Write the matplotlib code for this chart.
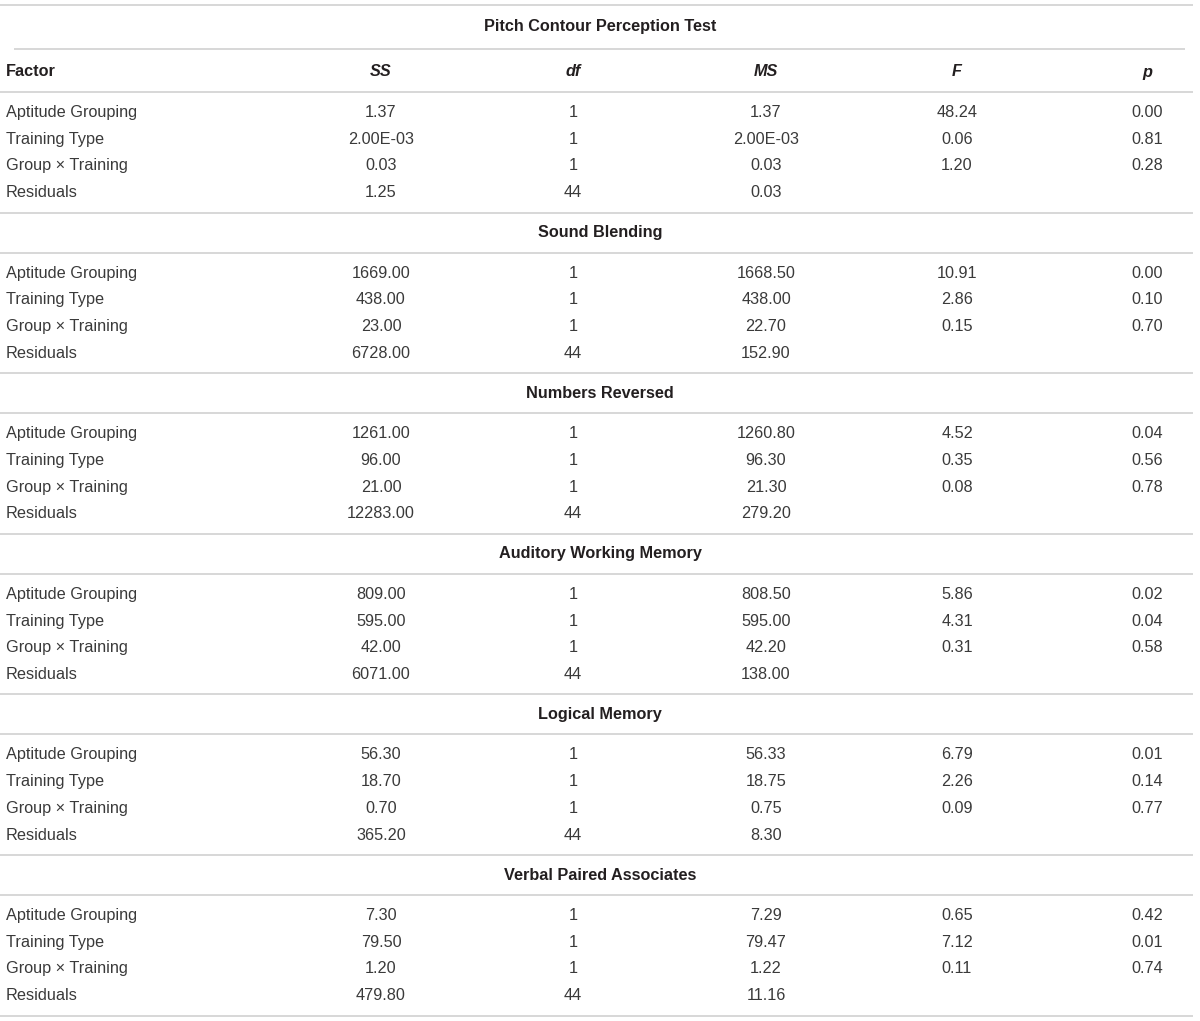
"""
ANOVA results table redrawn with matplotlib text and lines
"""

import matplotlib.pyplot as plt

sections = ['Pitch Contour Perception Test', 'Sound Blending', 'Numbers Reversed',
            'Auditory Working Memory', 'Logical Memory', 'Verbal Paired Associates']
columns = ['Factor', 'SS', 'df', 'MS', 'F', 'p']
factors = ['Aptitude Grouping', 'Training Type', 'Group \u00d7 Training', 'Residuals']

ss = [['1.37', '2.00E-03', '0.03', '1.25'],
      ['1669.00', '438.00', '23.00', '6728.00'],
      ['1261.00', '96.00', '21.00', '12283.00'],
      ['809.00', '595.00', '42.00', '6071.00'],
      ['56.30', '18.70', '0.70', '365.20'],
      ['7.30', '79.50', '1.20', '479.80']]
df = [['1', '1', '1', '44']] * 6
ms = [['1.37', '2.00E-03', '0.03', '0.03'],
      ['1668.50', '438.00', '22.70', '152.90'],
      ['1260.80', '96.30', '21.30', '279.20'],
      ['808.50', '595.00', '42.20', '138.00'],
      ['56.33', '18.75', '0.75', '8.30'],
      ['7.29', '79.47', '1.22', '11.16']]
f_val = [['48.24', '0.06', '1.20', ''],
         ['10.91', '2.86', '0.15', ''],
         ['4.52', '0.35', '0.08', ''],
         ['5.86', '4.31', '0.31', ''],
         ['6.79', '2.26', '0.09', ''],
         ['0.65', '7.12', '0.11', '']]
p_val = [['0.00', '0.81', '0.28', ''],
         ['0.00', '0.10', '0.70', ''],
         ['0.04', '0.56', '0.78', ''],
         ['0.02', '0.04', '0.58', ''],
         ['0.01', '0.14', '0.77', ''],
         ['0.42', '0.01', '0.74', '']]

W, H = 1200, 1021
col_x = [6, 381, 573, 766, 957, 1147]
line_color = '#d4d4d4'
text_color = '#3a3a3a'
head_color = '#231f20'
plt.rcParams['font.family'] = ['Liberation Sans', 'DejaVu Sans']

fig = plt.figure(figsize=(W / 100, H / 100), dpi=100)
ax = fig.add_axes([0, 0, 1, 1])
ax.set_xlim(0, W)
ax.set_ylim(H, 0)
ax.axis('off')


def hline(y, x0=0, x1=1193):
    ax.plot([x0, x1], [y, y], color=line_color, lw=1.3, solid_capstyle='butt')


def cell(x, y, s, col, color=text_color, **kw):
    ha = 'left' if col == 0 else 'center'
    ax.text(x, y, s, ha=ha, va='center', fontsize=11.7, color=color, **kw)


hline(5)
y = 26
for k, name in enumerate(sections):
    ax.text(600, y, name, ha='center', va='center', fontsize=11.7,
            fontweight='bold', color=head_color)
    if k == 0:
        hline(y + 23, 14, 1185)
        y += 46
        for c, lab in enumerate(columns):
            style = 'normal' if c == 0 else 'italic'
            cell(col_x[c], y, lab, c, color=head_color, fontweight='bold', fontstyle=style)
        hline(y + 20)
        y += 40.5
    else:
        hline(y + 20)
        y += 40.5
    for r in range(4):
        vals = [factors[r], ss[k][r], df[k][r], ms[k][r], f_val[k][r], p_val[k][r]]
        for c, v in enumerate(vals):
            cell(col_x[c], y, v, c)
        if r < 3:
            y += 26.7
    hline(y + 20)
    y += 40

plt.savefig('out.png', dpi=100)
